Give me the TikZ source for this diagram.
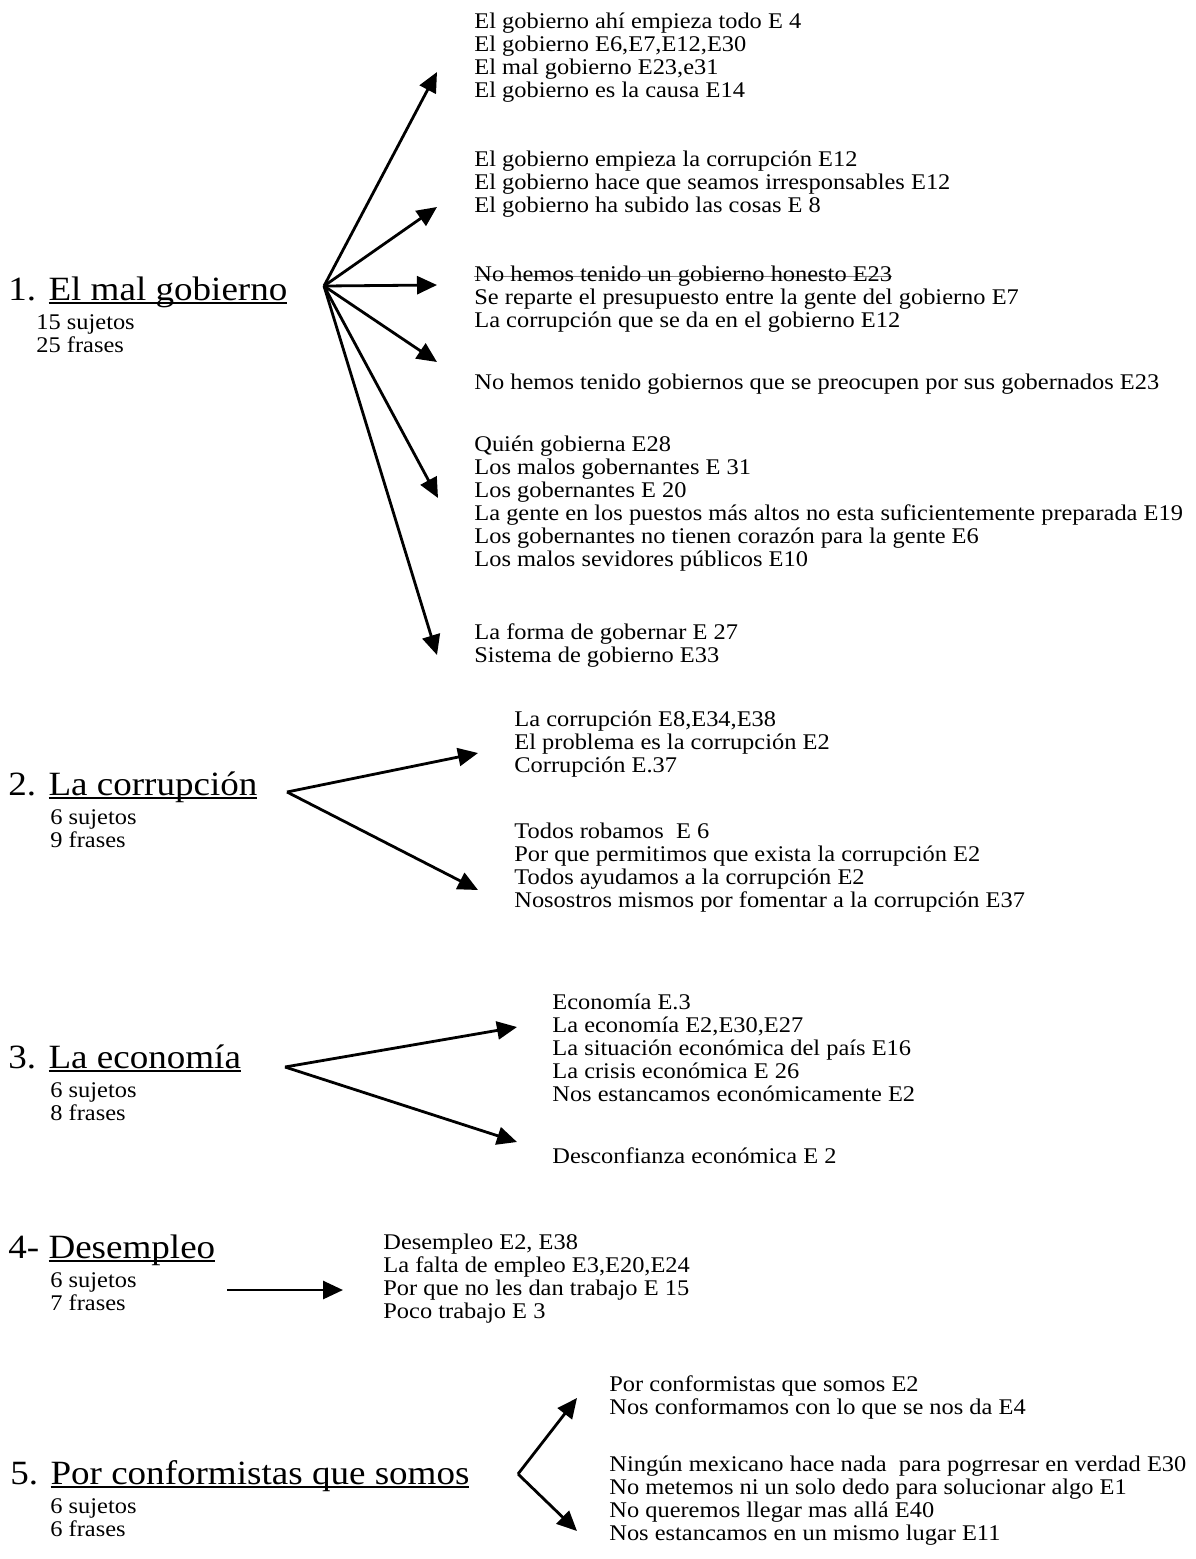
\documentclass[tikz,border=0pt]{standalone}
\usepackage{fontspec}
\setmainfont[FakeStretch=1.09]{Liberation Serif}
\newsavebox\myulbox
\newcommand\myul[1]{\sbox\myulbox{#1}\rlap{\rule[-2pt]{\wd\myulbox}{0.9pt}}\usebox\myulbox}
\newcommand\mystrike[1]{\sbox\myulbox{#1}\rlap{\textcolor{gray}{\rule[2.4pt]{\wd\myulbox}{0.45pt}}}\usebox\myulbox}
\usetikzlibrary{arrows.meta}
\begin{document}
\begin{tikzpicture}[x=0.5pt,y=-0.5pt,
  txt/.style={anchor=north west, inner sep=0pt, align=left, font=\fontsize{11.2}{11.5}\selectfont},
  head/.style={anchor=base west, inner sep=0pt, font=\fontsize{17}{18}\selectfont},
  sub/.style={anchor=north west, inner sep=0pt, align=left, font=\fontsize{11.2}{11.5}\selectfont},
  arr/.style={line width=1.4pt, -{Triangle[length=10pt,width=9pt]}}]
\useasboundingbox (0,0) rectangle (1195,1559);

% ---------- Section 1 ----------
\node[head] (h1) at (8,300) {1. \myul{El mal gobierno}};
\node[sub] (s1) at (36,313) {\strut 15 sujetos\\25 frases};
\coordinate (o1) at (324,286);
\coordinate (t1a) at (437,72);
\coordinate (t1b) at (437,207);
\coordinate (t1c) at (437,285);
\coordinate (t1d) at (437,362);
\coordinate (t1e) at (438,498);
\coordinate (t1f) at (437,655);
\node[txt] (g1a) at (474,12) {\strut El gobierno ahí empieza todo E 4\\El gobierno E6,E7,E12,E30\\El mal gobierno E23,e31\\El gobierno es la causa E14};
\node[txt] (g1b) at (474,150) {\strut El gobierno empieza la corrupción E12\\El gobierno hace que seamos irresponsables E12\\El gobierno ha subido las cosas E 8};
\node[txt] (g1c) at (474,265) {\strut \mystrike{No hemos tenido un gobierno honesto E23}\\Se reparte el presupuesto entre la gente del gobierno E7\\La corrupción que se da en el gobierno E12};
\node[txt] (g1d) at (474,373) {\strut No hemos tenido gobiernos que se preocupen por sus gobernados E23};
\node[txt] (g1e) at (474,435) {\strut Quién gobierna E28\\Los malos gobernantes E 31\\Los gobernantes E 20\\La gente en los puestos más altos no esta suficientemente preparada E19\\Los gobernantes no tienen corazón para la gente E6\\Los malos sevidores públicos E10};
\node[txt] (g1f) at (474,623) {\strut La forma de gobernar E 27\\Sistema de gobierno E33};
\foreach \t in {t1a,t1b,t1c,t1d,t1e,t1f} \draw[arr] (o1) -- (\t);

% ---------- Section 2 ----------
\node[head] (h2) at (8,795) {2. \myul{La corrupción}};
\node[sub] (s2) at (50,808) {\strut 6 sujetos\\9 frases};
\coordinate (o2) at (287,792);
\coordinate (t2a) at (478,753);
\coordinate (t2b) at (478,890);
\node[txt] (g2a) at (514,710) {\strut La corrupción E8,E34,E38\\El problema es la corrupción E2\\Corrupción E.37};
\node[txt] (g2b) at (514,822) {\strut Todos robamos\ \ E 6\\Por que permitimos que exista la corrupción E2\\Todos ayudamos a la corrupción E2\\Nosostros mismos por fomentar a la corrupción E37};
\draw[arr] (o2) -- (t2a);
\draw[arr] (o2) -- (t2b);

% ---------- Section 3 ----------
\node[head] (h3) at (8,1068) {3. \myul{La economía}};
\node[sub] (s3) at (50,1081) {\strut 6 sujetos\\8 frases};
\coordinate (o3) at (285,1067);
\coordinate (t3a) at (517,1027);
\coordinate (t3b) at (517,1142);
\node[txt] (g3a) at (552,993) {\strut Economía E.3\\La economía E2,E30,E27\\La situación económica del país E16\\La crisis económica E 26\\Nos estancamos económicamente E2};
\node[txt] (g3b) at (552,1147) {\strut Desconfianza económica E 2};
\draw[arr] (o3) -- (t3a);
\draw[arr] (o3) -- (t3b);

% ---------- Section 4 ----------
\node[head] (h4) at (8,1258) {4- \myul{Desempleo}};
\node[sub] (s4) at (50,1271) {\strut 6 sujetos\\7 frases};
\coordinate (o4) at (227,1290);
\coordinate (t4) at (343,1290);
\node[txt] (g4) at (383,1233) {\strut Desempleo E2, E38\\La falta de empleo E3,E20,E24\\Por que no les dan trabajo E 15\\Poco trabajo E 3};
\draw[arr] (o4) -- (t4);

% ---------- Section 5 ----------
\node[head] (h5) at (10,1484) {5. \myul{Por conformistas que somos}};
\node[sub] (s5) at (50,1497) {\strut 6 sujetos\\6 frases};
\coordinate (o5) at (518,1474);
\coordinate (t5a) at (577,1398);
\coordinate (t5b) at (577,1531);
\node[txt] (g5a) at (609,1375) {\strut Por conformistas que somos E2\\Nos conformamos con lo que se nos da E4};
\node[txt] (g5b) at (609,1455) {\strut Ningún mexicano hace nada\ \ para pogrresar en verdad E30\\No metemos ni un solo dedo para solucionar algo E1\\No queremos llegar mas allá E40\\Nos estancamos en un mismo lugar E11};
\draw[arr] (o5) -- (t5a);
\draw[arr] (o5) -- (t5b);
\end{tikzpicture}
\end{document}
